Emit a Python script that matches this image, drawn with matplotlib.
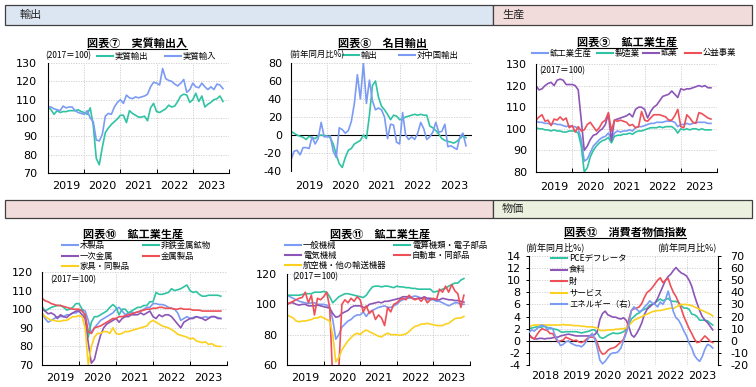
import matplotlib.pyplot as plt
import numpy as np
from matplotlib.lines import Line2D
from matplotlib.patches import Rectangle

plt.rcParams['font.family'] = ['DejaVu Sans', 'Noto Sans CJK JP']
plt.rcParams['axes.unicode_minus'] = False
JP = ['Noto Sans CJK JP', 'DejaVu Sans']

W, H = 756, 387

TEAL = '#30c3a3'
BLUE = '#7b9bf4'
PURP = '#8c55b6'
RED = '#ee5058'
YEL = '#fbd11e'
GRID = '#cccccc'

# ---- data (monthly, 2019/01 - 2023/11) ----
years = ['2019', '2020', '2021', '2022', '2023']

# chart 7 real exports / imports (2017=100)
real_exp = [106, 104.5, 102, 104, 103, 103.5, 103.5, 104, 104, 104, 104.5, 103.5,
            103, 102, 105.5, 96, 78, 74.5, 84, 92, 94.5, 96.5, 98, 99.5,
            101.5, 101.5, 97.5, 104, 102.5, 101.5, 100.5, 100.5, 101, 98.5, 105.5, 108,
            103.5, 103, 104, 105, 107, 106, 106.5, 109, 112, 113, 112.5, 108.5,
            110, 113.5, 109, 112, 106, 107.5, 108.5, 110, 110.5, 112, 109]
real_imp = [106, 106, 105, 104.5, 104, 106.5, 105.5, 106, 106, 104, 103, 102.5,
            102, 104, 100, 98, 88, 87.5, 91, 101, 102.5, 102, 106, 108.5,
            110, 108, 112.5, 111, 110.5, 111.5, 111, 111.5, 112, 113, 117, 119.5,
            119, 118, 127, 121.5, 120.5, 120, 118.5, 117.5, 119, 121, 114, 115.5,
            119, 117, 116.5, 119, 117, 115.5, 117, 115.5, 118.5, 118, 116]

# chart 8 nominal exports (yoy %)
nom_exp = [4, 2, 0, -1.5, -2.5, -5, -1.5, -3, -4, -1, 0, -1,
           -1, -3, -10, -22, -32, -36, -25, -17, -15, -10, -8, -6,
           0, -4, 22, 55, 60, 42, 32, 28, 23, 17, 22, 21,
           17, 18, 20, 21, 22, 23, 22, 23, 22, 22, 10, 8,
           5, 1, -4, -6, -7, -8, -9, -7, -4, -1, -3]
exp_china = [-28, -18, -17, -22, -14, -14, -15, -2, -10, -4, 14, -2,
             -2, -1, -18, -25, 8, 6, 2, 5, 15, 35, 67, 40,
             80, 35, 61, 38, 28, 30, 28, 20, -4, 12, 11, -8,
             -10, 25, 0, -5, -2, -5, 2, 14, 7, -5, -2, 3,
             14, 3, 4, 12, -13, -12, -14, -16, -2, 2, -12]

# chart 9 industrial production (2017=100)
ip_total = [103.5, 103, 103, 102.5, 102.5, 102, 102.5, 102, 102, 101.5, 101, 101.5,
            101, 101, 100, 95, 85, 86, 89, 92, 93.5, 95, 96, 96.5,
            98, 95, 98, 99, 98.5, 99, 99, 99.5, 99, 100.5, 101, 101,
            101.5, 102, 102.5, 102.5, 103, 103, 103, 103.5, 103.5, 103.5, 103, 101,
            102, 102, 102.5, 102, 102.5, 103, 103, 103, 103, 102.5, 102.5]
ip_manuf = [100.5, 100, 100, 99.5, 99.5, 99, 99.5, 99, 99, 98.5, 98.5, 99,
            99, 99, 98, 92, 80, 82, 87, 90, 92, 93.5, 94.5, 95,
            96, 93.5, 96.5, 97, 97, 97.5, 97.5, 98, 97.5, 98.5, 99, 99,
            99.5, 100, 100.5, 100.5, 100.5, 101, 100.5, 101, 101, 101, 100, 98,
            100, 99.5, 100, 99.5, 100, 100, 99.5, 100, 99.5, 99.5, 99.5]
ip_mining = [120, 118, 118.5, 120, 121, 121.5, 120, 122.5, 123, 122.5, 120.5, 120.5,
             120.5, 120, 118, 104, 90, 92, 95, 97, 97.5, 99, 100, 102,
             107, 94.5, 104, 104.5, 105, 105.5, 106, 107, 105.5, 109, 110, 110,
             109, 105, 108, 110, 111, 113, 115, 115.5, 116, 117.5, 116, 114.5,
             118.5, 118, 118.5, 118.5, 119, 119.5, 120, 119.5, 120, 119, 119]
ip_util = [104, 105.5, 106.5, 103.5, 104, 101.5, 104.5, 104, 105.5, 104, 105, 100.5,
           101.5, 98.5, 101, 99, 99.5, 102, 103, 101, 99, 100.5, 103, 104,
           107.5, 99, 104, 103.5, 104, 103.5, 103, 101.5, 102, 100.5, 101, 108,
           104, 103.5, 105, 106.5, 106.5, 106.5, 106, 105.5, 104, 104, 106, 109,
           101, 100.5, 106.5, 105, 103, 102.5, 107.5, 107, 106, 105, 104.5]

# chart 10 industrial production by industry (2017=100)
wood = [98, 95, 93, 94, 95, 96, 96, 96, 97, 97, 98, 98,
        99, 100, 99, 94, 87, 90, 92, 94, 95, 96, 97, 98,
        100, 101, 99, 97, 98, 98.5, 98, 98.5, 99, 100, 101, 101,
        103, 103, 102.5, 102.5, 102, 101, 100.5, 100, 98, 94, 95, 96,
        95, 95.5, 96, 95.5, 95.5, 96, 95.5, 96, 96, 95.5, 95]
nonmetal = [101.5, 99, 100, 101, 101.5, 102, 102, 101, 99.5, 100, 101, 103,
            103, 100, 96, 85, 93, 96, 96, 97, 98, 99, 101, 102.5,
            101, 97, 100, 100, 98, 99, 100, 101, 101, 102, 102, 104,
            104, 109, 108, 108, 108.5, 109, 111, 110, 110.5, 111, 112, 113,
            110, 109, 109.5, 108, 107, 107, 107.5, 107.5, 107.5, 107.5, 107]
primary_metal = [100, 99, 97.5, 98, 97, 95, 97, 96, 95.5, 97, 98, 99,
                 99, 97, 95, 82, 71, 73, 80, 86, 90, 92, 93, 94,
                 95, 93, 95, 96, 96, 97, 97, 97, 98, 97, 98, 99,
                 96, 95, 97, 96, 97, 97, 96, 94, 92, 90, 93, 94,
                 95, 95, 96, 95.5, 95, 94, 95, 96, 96, 95, 95]
metal_prod = [106, 104.5, 104, 103, 102.5, 102, 102, 101.5, 101, 100.5, 100, 100,
              100, 99, 97, 88, 87, 90, 90.5, 91, 92, 93, 94, 95,
              95, 96, 96, 96.5, 97, 97.5, 98, 98.5, 99, 99.5, 100, 100,
              100.5, 100.5, 101, 101, 100.5, 100.5, 100.5, 100, 100, 100.5, 100, 100,
              100, 99.5, 99.5, 99.5, 99, 99, 99, 99, 99, 99, 99]
furniture = [98, 96, 95, 94, 94, 93.5, 93.5, 94, 94, 95, 96, 96,
             96.5, 96, 90, 70, 80, 85, 87, 87, 88, 88, 87, 90,
             87, 86.5, 87, 88, 88, 88.5, 89, 89.5, 90, 90.5, 91, 93,
             94, 93, 92, 91, 90.5, 90, 89, 88, 86.5, 86, 85.5, 85,
             84, 84.5, 83, 82.5, 82, 82.5, 81, 81.5, 80.5, 80, 80]

# chart 11 industrial production by industry (2017=100)
machinery = [106, 105, 104, 103, 102, 101.5, 101, 100.5, 101, 101, 100, 100,
             100, 99.5, 98, 90, 77, 80, 85, 87, 89, 90, 92, 93,
             93, 95, 92, 95, 96, 97, 98, 98.5, 99, 98, 98, 99,
             100, 102, 103, 104, 104, 105, 105.5, 105, 104, 104, 103, 103,
             103, 102, 102, 101, 100, 99, 100, 101, 101, 100, 100]
computers = [106, 106, 106, 106, 106, 106.5, 107, 107, 107, 108, 108, 108,
             108.5, 108, 105, 101, 103, 105, 106, 107, 107, 106.5, 106, 105.5,
             105, 104.5, 106, 109, 111.5, 112, 112, 111.5, 112, 112, 111.5, 111,
             112, 111.5, 111.5, 111, 111, 110.5, 110.5, 110, 110, 110, 110, 110,
             108, 108.5, 109, 110, 110.5, 112, 113, 114, 114, 116, 117]
electrical = [100, 101, 101, 100, 99.5, 100, 100, 99, 99, 99, 99.5, 99,
              98.5, 98, 97.5, 94, 91.5, 92, 94, 95, 96, 98, 99, 99,
              99, 98, 98, 100, 100.5, 101, 101.5, 101, 102, 102, 102.5, 103,
              103.5, 104, 105, 105, 105, 104, 103.5, 104, 104, 105, 104, 104,
              103.5, 103, 103, 104, 103.5, 103, 103, 102.5, 102.5, 102, 101.5]
autos = [100, 101, 102, 103, 104, 104.5, 108, 101, 106, 93, 104, 103,
         105, 108, 98, 50, 40, 58, 100, 103, 101, 104, 102, 105,
         103, 95, 99, 94, 96, 90, 93, 91, 86, 98, 95, 100,
         101, 103, 104, 103, 106, 104, 103, 104, 102, 104.5, 101, 103,
         104, 103, 110, 108, 112, 108, 113, 109, 107, 98, 106]
aircraft = [93, 92, 91, 89, 88.5, 89, 89, 89.5, 90, 91, 91, 92,
            91, 90, 89, 80, 62, 65, 70, 73, 76, 78, 80, 81,
            80, 82, 83, 82, 81, 80, 79, 78.5, 80, 81, 80, 80,
            80, 79.5, 80, 80.5, 82, 84, 85.5, 86, 87, 87, 87.5, 87,
            86.5, 86, 86, 86, 87, 87.5, 89, 90.5, 91, 91, 92]

# chart 12 consumer prices (yoy %, 2018/01 - 2023/11)
years12 = ['2018', '2019', '2020', '2021', '2022', '2023']
pce = [2.0, 2.1, 2.2, 2.3, 2.2, 2.3, 2.4, 2.2, 2.0, 2.0, 1.9, 1.8,
       1.5, 1.4, 1.5, 1.5, 1.5, 1.5, 1.5, 1.4, 1.3, 1.4, 1.5, 1.6,
       1.8, 1.8, 1.3, 0.6, 0.4, 0.6, 0.9, 1.1, 1.3, 1.2, 1.2, 1.3,
       1.5, 1.9, 2.6, 3.6, 4.0, 4.4, 4.6, 5.0, 5.2, 5.4, 5.9, 6.0,
       6.3, 6.6, 6.9, 6.6, 6.8, 7.0, 6.6, 6.5, 6.5, 6.3, 5.8, 5.4,
       5.4, 5.2, 4.4, 4.3, 4.0, 3.4, 3.4, 3.4, 3.3, 2.9, 2.6]
food = [1.0, 0.6, 0.3, 0.3, 0.4, 0.4, 0.3, 0.4, 0.4, 0.5, 0.6, 0.6,
        0.8, 0.9, 1.0, 1.1, 1.0, 0.9, 0.8, 0.8, 0.8, 0.8, 0.8, 0.8,
        1.0, 1.0, 1.5, 3.5, 4.5, 4.9, 4.3, 4.1, 3.9, 3.9, 3.7, 3.6,
        3.8, 3.4, 2.4, 1.0, 0.6, 1.2, 2.0, 3.0, 4.4, 5.2, 5.6, 6.0,
        6.2, 7.0, 8.0, 9.0, 10.0, 10.6, 11.0, 11.6, 12.1, 11.6, 11.2, 11.0,
        10.7, 10.0, 9.0, 7.5, 6.2, 5.0, 4.0, 3.4, 3.0, 2.4, 1.8]
goods = [1.0, 0.5, 0.3, 1.0, 1.6, 2.0, 1.8, 1.7, 1.2, 1.2, 0.5, -0.2,
         0.0, 0.1, 0.6, 0.4, 0.2, 0.0, 0.1, -0.2, -0.3, -0.1, 0.3, 0.6,
         0.6, 0.5, -0.3, -1.6, -2.2, -2.1, -1.6, -1.3, -1.2, -1.0, -0.6, -0.2,
         0.2, 1.5, 3.5, 5.0, 5.3, 5.4, 5.6, 6.2, 7.2, 8.0, 8.3, 8.8,
         9.4, 10.0, 10.4, 9.6, 10.0, 10.3, 9.0, 8.0, 7.3, 6.3, 5.3, 4.0,
         3.0, 2.0, 1.2, 0.3, -0.3, -0.2, 0.3, 0.8, 0.4, -0.1, -0.3]
services = [2.2, 2.5, 2.6, 2.6, 2.6, 2.6, 2.6, 2.6, 2.6, 2.6, 2.6, 2.6,
            2.6, 2.7, 2.6, 2.6, 2.6, 2.5, 2.5, 2.5, 2.4, 2.4, 2.3, 2.3,
            2.3, 2.2, 2.1, 1.7, 1.7, 1.7, 1.8, 1.8, 1.8, 1.9, 1.9, 2.0,
            2.0, 2.1, 2.5, 3.0, 3.4, 3.6, 3.8, 4.0, 4.2, 4.4, 4.6, 4.8,
            4.9, 5.0, 5.0, 5.1, 5.2, 5.3, 5.4, 5.3, 5.6, 5.8, 6.0, 6.0,
            6.0, 5.9, 5.8, 5.6, 5.4, 5.2, 5.0, 4.8, 4.6, 4.4, 4.1]
energy = [7, 9, 8, 10, 12, 13, 12, 9, 11, 10, 4, 0,
          -4, -3, -1, 0, -2, -3, -4, -4, -5, -3, 0, 3,
          6, 2, -6, -16, -19, -17, -14, -11, -10, -10, -9, -6,
          0, 6, 13, 25, 28, 26, 24, 25, 28, 30, 33, 31,
          30, 28, 32, 30, 34, 41, 33, 24, 19, 17, 13, 8,
          4, -2, -6, -12, -15, -17, -13, -7, -3, -4, -6]

x19 = 2019 + np.arange(len(real_exp)) / 12
x18 = 2018 + np.arange(len(pce)) / 12

fig = plt.figure(figsize=(W / 100, H / 100), dpi=100)


def box(x0, y0, x1, y1, fc, label=None, tx=None):
    fig.add_artist(Rectangle((x0 / W, 1 - y1 / H), (x1 - x0) / W, (y1 - y0) / H,
                             transform=fig.transFigure, fc=fc, ec='#404040', lw=0.9))
    if label:
        fig.text(tx / W, 1 - (y0 + y1) / 2 / H, label, fontsize=8, va='center',
                 family=JP, color='#222222')


box(5, 5, 493, 25, '#dce6f2', '輸出', 20)
box(493, 5, 752, 25, '#f2dcdb', '生産', 502)
box(5, 200, 493, 218, '#f2dcdb')
box(493, 200, 752, 218, '#ebf1de', '物価', 502)


def panel(x0, y0, x1, y1, ylo, yhi, step, years_, padx, pady, zero=False):
    start = int(years_[0])
    ax = fig.add_axes([x0 / W, 1 - y1 / H, (x1 - x0) / W, (y1 - y0) / H])
    ax.set_xlim(start, start + len(years_))
    ax.set_ylim(ylo, yhi)
    ax.set_yticks(np.arange(ylo, yhi + step / 2, step))
    ax.set_xticks(np.arange(start, start + len(years_) + 1))
    ax.set_xticklabels([])
    ax.set_xticks(np.arange(start, start + len(years_)) + 0.5, minor=True)
    ax.set_xticklabels(years_, minor=True)
    ax.tick_params(axis='x', which='major', length=3, direction='in', width=0.7)
    ax.tick_params(axis='x', which='minor', length=0, pad=padx, labelsize=8)
    ax.tick_params(axis='y', length=0, pad=pady, labelsize=8)
    ax.grid(True, which='major', color=GRID, ls=(0, (1.5, 1.5)), lw=0.6)
    ax.spines[['top', 'right']].set_visible(False)
    ax.spines['left'].set_linewidth(0.8)
    ax.spines['bottom'].set_linewidth(0.8)
    if zero:
        ax.spines['bottom'].set_visible(False)
        ax.axhline(0, color='black', lw=0.8)
        ax.tick_params(axis='x', which='major', length=0)
    ax.set_axisbelow(True)
    return ax


titles = []


def title(x, y, s):
    titles.append(fig.text(x / W, 1 - y / H, s, ha='center', va='center',
                           fontsize=8, fontweight='bold', family=JP))


def leg(x, y, color, label):
    fig.add_artist(Line2D([x / W, (x + 16) / W], [1 - y / H] * 2, color=color, lw=1.5))
    fig.text((x + 18) / W, 1 - y / H, label, fontsize=6, va='center', family=JP)


def note(x, y, s):
    fig.text(x / W, 1 - y / H, s, fontsize=6, va='center', family=JP)


LW = 1.2

# chart 7
ax = panel(48, 63, 229, 173, 70, 130, 10, years, 6, 8)
ax.plot(x19, real_exp, color=TEAL, lw=LW)
ax.plot(x19, real_imp, color=BLUE, lw=LW)
title(137, 43, '図表⑦　実質輸出入')
note(45, 56, '(2017＝100)')
leg(97, 56, TEAL, '実質輸出')
leg(165, 56, BLUE, '実質輸入')

# chart 8
ax = panel(291, 63, 472, 171, -40, 80, 20, years, 7.5, 6.5, zero=True)
ax.plot(x19, nom_exp, color=TEAL, lw=LW)
ax.plot(x19, exp_china, color=BLUE, lw=LW)
title(382, 43, '図表⑧　名目輸出')
note(289, 55, '(前年同月比%)')
leg(343, 55, TEAL, '輸出')
leg(399, 55, BLUE, '対中国輸出')

# chart 9
ax = panel(536, 64, 717, 172, 80, 130, 10, years, 7, 6.5)
ax.plot(x19, ip_total, color=BLUE, lw=LW)
ax.plot(x19, ip_manuf, color=TEAL, lw=LW)
ax.plot(x19, ip_mining, color=PURP, lw=LW)
ax.plot(x19, ip_util, color=RED, lw=LW)
title(627, 42, '図表⑨　鉱工業生産')
note(539, 71, '(2017＝100)')
leg(532, 53, BLUE, '鉱工業生産')
leg(597, 53, TEAL, '製造業')
leg(643, 53, PURP, '鉱業')
leg(685, 53, RED, '公益事業')

# chart 10
ax = panel(42, 272, 227, 365, 70, 120, 10, years, 6, 6.5)
ax.plot(x19, wood, color=BLUE, lw=LW)
ax.plot(x19, nonmetal, color=TEAL, lw=LW)
ax.plot(x19, primary_metal, color=PURP, lw=LW)
ax.plot(x19, metal_prod, color=RED, lw=LW)
ax.plot(x19, furniture, color=YEL, lw=LW)
title(133, 234, '図表⑩　鉱工業生産')
note(50, 280, '(2017＝100)')
leg(62, 245, BLUE, '木製品')
leg(143, 245, TEAL, '非鉄金属鉱物')
leg(62, 256, PURP, '一次金属')
leg(143, 256, RED, '金属製品')
leg(62, 266, YEL, '家具・同製品')

# chart 11
ax = panel(287, 274, 470, 365, 60, 120, 20, years, 6, 7)
ax.plot(x19, machinery, color=BLUE, lw=LW)
ax.plot(x19, computers, color=TEAL, lw=LW)
ax.plot(x19, electrical, color=PURP, lw=LW)
ax.plot(x19, autos, color=RED, lw=LW)
ax.plot(x19, aircraft, color=YEL, lw=LW)
title(380, 234, '図表⑪　鉱工業生産')
note(292, 277, '(2017＝100)')
leg(285, 245, BLUE, '一般機械')
leg(394, 245, TEAL, '電算機類・電子部品')
leg(285, 255, PURP, '電気機械')
leg(394, 255, RED, '自動車・同部品')
leg(285, 265, YEL, '航空機・他の輸送機器')

# chart 12
ax = panel(529, 256, 718, 365, -4, 14, 2, years12, 4, 4, zero=True)
ax.tick_params(axis='y', length=2, direction='out', width=0.7)
ax.plot(x18, pce, color=TEAL, lw=LW)
ax.plot(x18, food, color=PURP, lw=LW)
ax.plot(x18, goods, color=RED, lw=LW)
ax.plot(x18, services, color=YEL, lw=LW)
axr = ax.twinx()
axr.set_ylim(-20, 70)
axr.set_yticks(np.arange(-20, 71, 10))
axr.tick_params(axis='y', length=2, direction='out', width=0.7, pad=7, labelsize=8)
axr.spines[['top', 'left', 'bottom']].set_visible(False)
axr.spines['right'].set_linewidth(0.8)
axr.plot(x18, energy, color=BLUE, lw=LW)
title(625, 232, '図表⑫　消費者物価指数')
fig.text(525 / W, 1 - 247 / H, '(前年同月比%)', fontsize=6.5, va='center', family=JP)
fig.text(657 / W, 1 - 247 / H, '(前年同月比%)', fontsize=6.5, va='center', family=JP)
for i, (c, s) in enumerate([(TEAL, 'PCEデフレータ'), (PURP, '食料'), (RED, '財'),
                            (YEL, 'サービス'), (BLUE, 'エネルギー（右）')]):
    leg(551, 258 + 11.6 * i, c, s)

# underline titles
fig.canvas.draw()
for t in titles:
    bb = t.get_window_extent()
    yy = (bb.y0 + 0.5) / H
    fig.add_artist(Line2D([bb.x0 / W, bb.x1 / W], [yy, yy], color='black', lw=0.8))

fig.savefig('out.png', dpi=100)
